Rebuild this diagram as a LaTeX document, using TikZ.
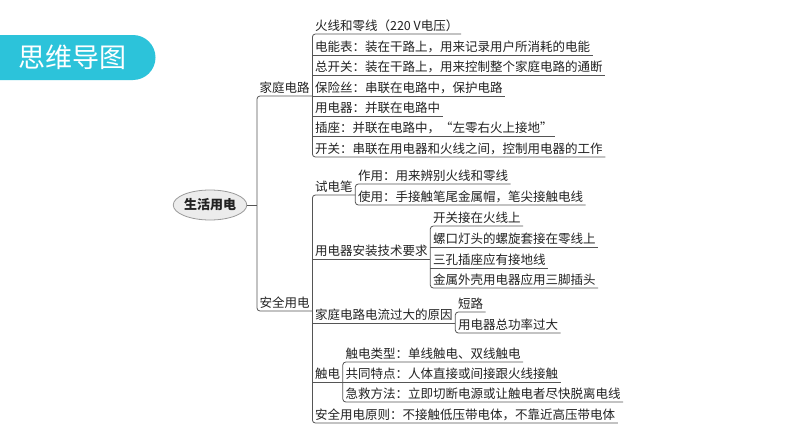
\documentclass[tikz,border=0pt]{standalone}
\usepackage{fontspec}
\setmainfont{Noto Sans CJK SC}
\usetikzlibrary{shapes.geometric,calc}
\definecolor{banner}{HTML}{2CC3DA}
\definecolor{txt}{HTML}{222222}
\definecolor{ln}{HTML}{555555}
\begin{document}
\begin{tikzpicture}[x=1pt,y=1pt,
  every node/.style={font=\fontsize{12.5}{14}\selectfont, text=txt},
  item/.style={anchor=south west, inner xsep=2.5pt, inner ysep=2pt},
  ul/.style={draw=ln, line width=0.8pt},
  br/.style={ul, rounded corners=3pt},
  root/.style={ellipse, draw=gray!80, fill=gray!15, line width=0.8pt, minimum width=66pt, minimum height=30pt, inner sep=0pt, font=\fontsize{13}{15}\selectfont\bfseries}]
\useasboundingbox (0,0) rectangle (794,-447);
\fill[white] (0,0) rectangle (794,-447);
% banner
\fill[banner] (0,-35) -- (133,-35) arc[start angle=90,end angle=-90,radius=22.5] -- (0,-80) -- cycle;
\node[text=white, font=\fontsize{27}{30}\selectfont] (title) at (72,-57.5) {思维导图};
% root
\node[root] (root) at (210,-205) {生活用电};
% level 2
\node[item] (jt) at (257,-96) {家庭电路};
\node[item] (aq) at (257,-311) {安全用电};
\draw[br] (jt.south east) -- (jt.south west) -- (aq.south west) -- (aq.south east);
\draw[ul] (root.east) -- (root.east -| jt.south west);
% children of jt
\node[item] (j1) at (jt.south east |- 0,-34) {火线和零线（220 V电压）};
\node[item] (j2) at (jt.south east |- 0,-55) {电能表：装在干路上，用来记录用户所消耗的电能};
\node[item] (j3) at (jt.south east |- 0,-75.5) {总开关：装在干路上，用来控制整个家庭电路的通断};
\node[item] (j4) at (jt.south east |- 0,-96) {保险丝：串联在电路中，保护电路};
\node[item] (j5) at (jt.south east |- 0,-116) {用电器：并联在电路中};
\node[item] (j6) at (jt.south east |- 0,-136.5) {插座：并联在电路中，“左零右火上接地”};
\node[item] (j7) at (jt.south east |- 0,-157) {开关：串联在用电器和火线之间，控制用电器的工作};
\draw[br] (j1.south east) -- (j1.south west) -- (j7.south west) -- (j7.south east);
\foreach \n in {j2,j3,j4,j5,j6} \draw[ul] (\n.south west) -- (\n.south east);
% children of aq
\node[item] (s1) at (aq.south east |- 0,-195) {试电笔};
\node[item] (s2) at (aq.south east |- 0,-259) {用电器安装技术要求};
\node[item] (s3) at (aq.south east |- 0,-323) {家庭电路电流过大的原因};
\node[item] (s4) at (aq.south east |- 0,-382) {触电};
\node[item] (s5) at (aq.south east |- 0,-423) {安全用电原则：不接触低压带电体，不靠近高压带电体};
\draw[br] (s1.south east) -- (s1.south west) -- (s5.south west) -- (s5.south east);
\foreach \n in {s2,s3,s4} \draw[ul] (\n.south west) -- (\n.south east);
% children of s1
\node[item] (t1) at (s1.south east |- 0,-184) {作用：用来辨别火线和零线};
\node[item] (t2) at (s1.south east |- 0,-205) {使用：手接触笔尾金属帽，笔尖接触电线};
\draw[br] (t1.south east) -- (t1.south west) -- (t2.south west) -- (t2.south east);
% children of s2
\node[item] (u1) at (s2.south east |- 0,-226) {开关接在火线上};
\node[item] (u2) at (s2.south east |- 0,-247) {螺口灯头的螺旋套接在零线上};
\node[item] (u3) at (s2.south east |- 0,-268) {三孔插座应有接地线};
\node[item] (u4) at (s2.south east |- 0,-288) {金属外壳用电器应用三脚插头};
\draw[br] (u1.south east) -- (u1.south west) -- (u4.south west) -- (u4.south east);
\foreach \n in {u2,u3} \draw[ul] (\n.south west) -- (\n.south east);
% children of s3
\node[item] (v1) at (s3.south east |- 0,-312) {短路};
\node[item] (v2) at (s3.south east |- 0,-333) {用电器总功率过大};
\draw[br] (v1.south east) -- (v1.south west) -- (v2.south west) -- (v2.south east);
% children of s4
\node[item] (w1) at (s4.south east |- 0,-362) {触电类型：单线触电、双线触电};
\node[item] (w2) at (s4.south east |- 0,-382) {共同特点：人体直接或间接跟火线接触};
\node[item] (w3) at (s4.south east |- 0,-402) {急救方法：立即切断电源或让触电者尽快脱离电线};
\draw[br] (w1.south east) -- (w1.south west) -- (w3.south west) -- (w3.south east);
\draw[ul] (w2.south west) -- (w2.south east);
\end{tikzpicture}
\end{document}
